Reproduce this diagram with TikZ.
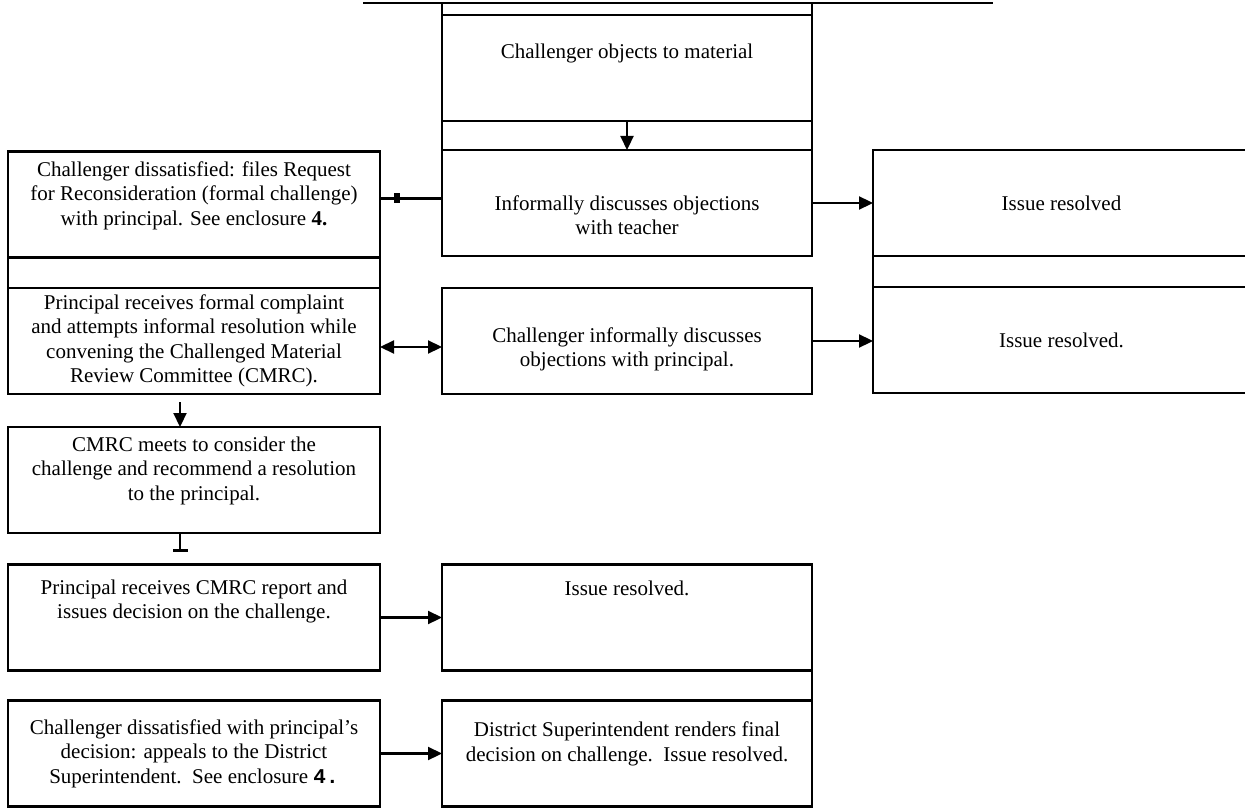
\documentclass[tikz,border=0pt]{standalone}
\usepackage{fontspec}
\setmainfont{Liberation Serif}
\setmonofont{Liberation Mono}
\usetikzlibrary{arrows.meta}

\begin{document}
\begin{tikzpicture}[x=0.5pt,y=-0.5pt,
  >={Triangle[length=7pt,width=6.5pt]},
  box/.style={draw,line width=1.1pt,minimum width=#1,minimum height=53pt,
    inner sep=2pt,outer sep=0pt,align=center,font=\fontsize{10.5}{12.2}\selectfont},
  box/.default=186pt,
  lift/.style={text depth=#1},
  drop/.style={text height=#1},
  link/.style={line width=1.1pt},
  tick/.style={fill,inner sep=0pt,minimum width=3pt,minimum height=5pt}]
\useasboundingbox (0,0) rectangle (1245,807);
\clip (0,0) rectangle (1245,807);
\draw[line width=.8pt] (363,3) -- (993,3);
%
% centre column
\node[box=185pt,lift=17pt] (objects) at (627,68) {Challenger objects to material};
\node[box=185pt,drop=32pt] (teach) at (627,203)
  {Informally discusses objections\\ with teacher};
\node[box=185pt,drop=28pt] (infprinc) at (627,341)
  {Challenger informally discusses\\ objections with principal.};
\node[box=185pt,lift=29pt] (res3) at (627,617.5) {Issue resolved.};
\node[box=185pt,lift=12pt] (dist) at (627,753.5)
  {District Superintendent renders final\\ decision on challenge.\ \ Issue resolved.};
%
% left column
\node[box,lift=11pt] (req) at (194,204.5)
  {Challenger dissatisfied: files Request\\ for Reconsideration (formal challenge)\\
   with principal. See enclosure \textbf{4.}};
\node[box] (princ) at (194,341)
  {Principal receives formal complaint\\ and attempts informal resolution while\\
   convening the Challenged Material\\ Review Committee (CMRC).};
\node[box,lift=11.5pt] (cmrc) at (194,480)
  {CMRC meets to consider the\\ challenge and recommend a resolution\\ to the principal.};
\node[box,lift=18pt] (rep) at (194,617.5)
  {Principal receives CMRC report and\\ issues decision on the challenge.};
\node[box] (appeal) at (194,753.5)
  {Challenger dissatisfied with principal's\\ decision: appeals to the District\\
   Superintendent.\ \ See enclosure \texttt{\textbf{4.}}};
%
% right column
\node[box=188.5pt] (res1) at (1061.5,203) {Issue resolved};
\node[box=188.5pt] (res2) at (1061.5,340) {Issue resolved.};
%
\draw[link] (objects.north west) -- ++(0,-12) (objects.north east) -- ++(0,-12);
\foreach \a/\b in {objects/teach,req/princ,res1/res2}
\draw[link] (\a.south west) -- (\b.north west) (\a.south east) -- (\b.north east);
\draw[link] (res3.south east) -- (dist.north east);
%
\draw[->,link] (objects) -- (teach);
\draw[link] ([yshift=3pt]req.east) -- node[tick,pos=.27]{} ([yshift=3pt]req.east -| teach.west);
\draw[->,link] (teach) -- (res1);
\draw[<->,link] ([yshift=-3pt]princ.east) -- ([yshift=-3pt]princ.east -| infprinc.west);
\draw[->,link] (infprinc.east) -- (infprinc.east -| res2.west);
\draw[->,link,shorten <=4pt] ([xshift=-7pt]princ.south) -- ([xshift=-7pt]princ.south |- cmrc.north);
\coordinate (stub) at ([xshift=-7pt,yshift=-9.5pt]cmrc.south);
\draw[link,-{Bar[width=7.5pt,line width=1.6pt]}] ([xshift=-7pt]cmrc.south) -- (stub);
\draw[->,link] (rep) -- (res3);
\draw[->,link] (appeal) -- (dist);
\end{tikzpicture}
\end{document}
